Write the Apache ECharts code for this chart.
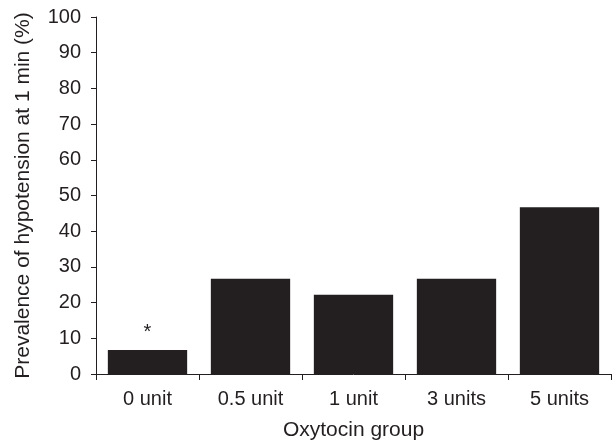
<!DOCTYPE html>
<html><head><meta charset="utf-8">
<script src="https://cdn.jsdelivr.net/npm/echarts@6/dist/echarts.min.js"></script>
<style>html,body{margin:0;padding:0;background:#fff}#c{width:614px;height:442px}</style>
</head><body><div id="c"></div>
<script>
const categories = ['0 unit', '0.5 unit', '1 unit', '3 units', '5 units'];
const prevalence = [6.7, 26.7, 22.2, 26.7, 46.7];
const yTicks = [0, 10, 20, 30, 40, 50, 60, 70, 80, 90, 100];
const marks = ['*', '', '', '', ''];

const ink = '#231f20';
const font = 'Liberation Sans, Arial, Helvetica, sans-serif';
const chart = echarts.init(document.getElementById('c'));
chart.setOption({
  animation: false,
  grid: {left: 96, right: 3, top: 17, bottom: 68, containLabel: false, outerBoundsMode: 'none'},
  xAxis: {
    type: 'category', data: categories,
    name: 'Oxytocin group', nameLocation: 'middle', nameGap: 46,
    nameTextStyle: {color: ink, fontSize: 21, fontFamily: font},
    axisLine: {lineStyle: {color: ink, width: 1}},
    axisTick: {show: true, length: 6, lineStyle: {color: ink}, alignWithLabel: false},
    axisLabel: {color: ink, fontSize: 20, fontFamily: font, margin: 15}
  },
  yAxis: {
    type: 'value', min: yTicks[0], max: yTicks[yTicks.length - 1], interval: 10,
    name: 'Prevalence of hypotension at 1 min (%)', nameLocation: 'middle', nameGap: 62,
    nameTextStyle: {color: ink, fontSize: 21, fontFamily: font},
    axisLine: {show: true, lineStyle: {color: ink, width: 1}},
    axisTick: {show: true, length: 5, lineStyle: {color: ink}},
    splitLine: {show: false},
    axisLabel: {color: ink, fontSize: 20, fontFamily: font, margin: 15}
  },
  series: [{
    type: 'bar',
    data: prevalence.map((v, i) => ({
      value: v,
      label: {show: marks[i] !== '', formatter: marks[i], position: 'top', distance: 8,
              color: ink, fontSize: 20, fontFamily: font}
    })),
    barCategoryGap: '23%',
    itemStyle: {color: ink}
  }]
});
</script></body></html>
